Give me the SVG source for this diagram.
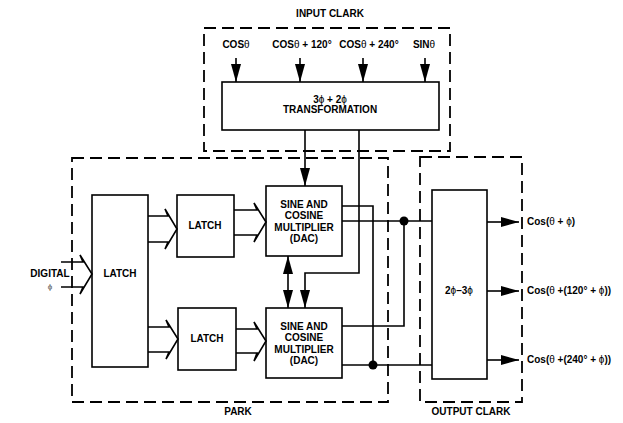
<svg xmlns="http://www.w3.org/2000/svg" width="623" height="423" viewBox="0 0 623 423">
<defs>
<style>
.t{font-family:"Liberation Sans",Arial,sans-serif;font-weight:bold;font-size:10px;fill:#000;text-anchor:middle}
.s{font-weight:normal}
.box{fill:#fff;stroke:#000;stroke-width:1.6}
.dash{fill:none;stroke:#000;stroke-width:1.8;stroke-dasharray:12 6}
.ln{fill:none;stroke:#000;stroke-width:1.6}
.bus{fill:none;stroke:#000;stroke-width:1.6;stroke-linejoin:miter}
</style>
<marker id="ah" viewBox="0 0 18 10" refX="18" refY="5" markerWidth="18" markerHeight="10" markerUnits="userSpaceOnUse" orient="auto-start-reverse">
<path d="M0,0 L18,5 L0,10 Z" fill="#000"/>
</marker>
</defs>
<rect width="623" height="423" fill="#fff"/>

<g id="groups">
<rect class="dash" x="204" y="28" width="246" height="123"/>
<rect class="dash" x="72" y="158" width="316" height="244"/>
<rect class="dash" x="420" y="157" width="102" height="245"/>
<text class="t" x="330" y="17">INPUT CLARK</text>
<text class="t" x="238" y="415">PARK</text>
<text class="t" x="471" y="415">OUTPUT CLARK</text>
</g>

<g id="transformation">
<rect class="box" x="222" y="82" width="217" height="48"/>
<text class="t" x="330" y="103">3<tspan class="s">ϕ</tspan> + 2<tspan class="s">ϕ</tspan></text>
<text class="t" x="330" y="113">TRANSFORMATION</text>
</g>

<g id="inputs">
<text class="t" x="236" y="48">COS<tspan class="s">θ</tspan></text>
<text class="t" x="302" y="48">COS<tspan class="s">θ</tspan> + 120°</text>
<text class="t" x="369" y="48">COS<tspan class="s">θ</tspan> + 240°</text>
<text class="t" x="424" y="48">SIN<tspan class="s">θ</tspan></text>
</g>

<g id="latch-main">
<rect class="box" x="92" y="195" width="56" height="172"/>
<text class="t" x="120" y="277">LATCH</text>
</g>
<g id="latch-upper">
<rect class="box" x="177" y="195" width="57" height="62"/>
<text class="t" x="205" y="229">LATCH</text>
</g>
<g id="latch-lower">
<rect class="box" x="178" y="308" width="58" height="62"/>
<text class="t" x="207" y="342">LATCH</text>
</g>
<g id="scm-upper">
<rect class="box" x="266" y="186" width="76" height="70"/>
<text class="t" x="304" y="208">SINE AND</text>
<text class="t" x="304" y="219">COSINE</text>
<text class="t" x="304" y="231">MULTIPLIER</text>
<text class="t" x="304" y="242">(DAC)</text>
</g>
<g id="scm-lower">
<rect class="box" x="266" y="308" width="76" height="70"/>
<text class="t" x="304" y="330">SINE AND</text>
<text class="t" x="304" y="341">COSINE</text>
<text class="t" x="304" y="353">MULTIPLIER</text>
<text class="t" x="304" y="364">(DAC)</text>
</g>
<g id="converter">
<rect class="box" x="432" y="190" width="55" height="189"/>
<text class="t" x="459" y="294">2<tspan class="s">ϕ</tspan>–3<tspan class="s">ϕ</tspan></text>
</g>
<g id="digital">
<text class="t" x="50" y="277">DIGITAL</text>
<text class="t s" x="50" y="289" style="font-size:8px;fill:#555">ϕ</text>
</g>
<g id="outputs">
<text class="t" x="527" y="225" style="text-anchor:start">Cos(<tspan class="s">θ</tspan> + <tspan class="s">ϕ</tspan>)</text>
<text class="t" x="527" y="294" style="text-anchor:start">Cos(<tspan class="s">θ</tspan> +(120° + <tspan class="s">ϕ</tspan>))</text>
<text class="t" x="527" y="363" style="text-anchor:start">Cos(<tspan class="s">θ</tspan> +(240° + <tspan class="s">ϕ</tspan>))</text>
</g>

<g id="connectors">
<line class="ln" x1="236" y1="58" x2="236" y2="82" marker-end="url(#ah)"/>
<line class="ln" x1="300" y1="58" x2="300" y2="82" marker-end="url(#ah)"/>
<line class="ln" x1="363" y1="58" x2="363" y2="82" marker-end="url(#ah)"/>
<line class="ln" x1="425" y1="58" x2="425" y2="82" marker-end="url(#ah)"/>
<line class="ln" x1="305" y1="130" x2="305" y2="186" marker-end="url(#ah)"/>
<polyline class="ln" points="359,130 359,273 305,273 305,308" marker-end="url(#ah)"/>
<line class="ln" x1="288" y1="256" x2="288" y2="308" marker-start="url(#ah)" marker-end="url(#ah)"/>
<path class="bus" d="M61,262 H83 L80,255 L92,274 L80,294 L83,287 H61"/>
<path class="bus" d="M148,216 H168 L165,209 L177,229 L165,249 L168,242 H148"/>
<path class="bus" d="M148,327 H169 L166,320 L178,339 L166,359 L169,352 H148"/>
<path class="bus" d="M234,210 H257 L254,203 L266,222 L254,242 L257,235 H234"/>
<path class="bus" d="M236,329 H257 L254,322 L266,341 L254,361 L257,353 H236"/>
<polyline class="ln" points="342,206 373,206 373,365"/>
<line class="ln" x1="342" y1="221" x2="432" y2="221"/>
<polyline class="ln" points="404,221 404,326 342,326"/>
<line class="ln" x1="342" y1="365" x2="432" y2="365"/>
<circle cx="404" cy="221" r="4.5" fill="#000"/>
<circle cx="373" cy="365" r="4.5" fill="#000"/>
<line class="ln" x1="487" y1="222" x2="519" y2="222" marker-end="url(#ah)"/>
<line class="ln" x1="487" y1="291" x2="519" y2="291" marker-end="url(#ah)"/>
<line class="ln" x1="487" y1="360" x2="519" y2="360" marker-end="url(#ah)"/>
</g>
</svg>
